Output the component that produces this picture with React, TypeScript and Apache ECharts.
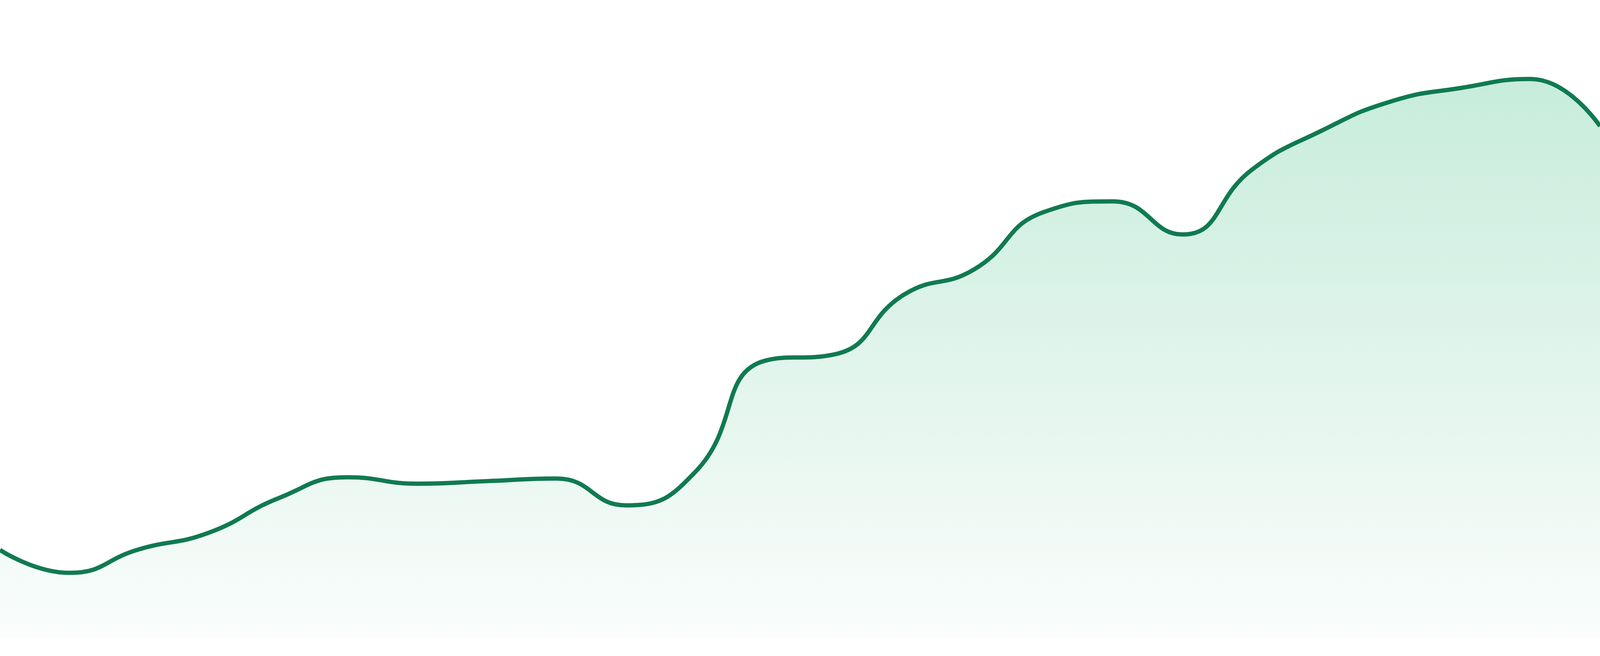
import React, { useEffect, useRef } from "react";
import * as echarts from "echarts";

const categories: string[] = [
  "1", "2", "3", "4", "5", "6", "7", "8", "9", "10", "11", "12",
  "13", "14", "15", "16", "17", "18", "19", "20", "21", "22", "23", "24",
];

const values: number[] = [
  13.7, 10.1, 13.8, 16.4, 21.8, 25.1, 24.1, 24.5, 24.9, 20.7, 26.0, 43.4,
  44.4, 53.8, 57.7, 66.7, 68.4, 63.2, 73.4, 79.5, 84.1, 86.2, 87.6, 80.2,
];

const yMin = 0;
const yMax = 100;

export default function App() {
  const ref = useRef<HTMLDivElement>(null);

  useEffect(() => {
    if (!ref.current) return;
    const chart = echarts.init(ref.current, null, { renderer: "svg" });
    chart.setOption({
      animation: false,
      backgroundColor: "#ffffff",
      grid: { left: 0, right: 0, top: 0, bottom: "2.86%", containLabel: false },
      xAxis: {
        type: "category",
        data: categories,
        boundaryGap: false,
        show: false,
      },
      yAxis: {
        type: "value",
        min: yMin,
        max: yMax,
        show: false,
      },
      series: [
        {
          type: "line",
          data: values,
          smooth: true,
          showSymbol: false,
          symbol: "none",
          lineStyle: { color: "#107a50", width: 11 },
          itemStyle: { color: "#107a50" },
          areaStyle: {
            color: new echarts.graphic.LinearGradient(0, 0, 0, 1, [
              { offset: 0, color: "#afe4cd" },
              { offset: 1, color: "#f8fcfa" },
            ]),
          },
        },
      ],
    });
    const onResize = () => chart.resize();
    window.addEventListener("resize", onResize);
    return () => {
      window.removeEventListener("resize", onResize);
      chart.dispose();
    };
  }, []);

  return (
    <div
      ref={ref}
      style={{ position: "fixed", left: 0, top: 0, width: "100vw", height: "100vh" }}
    />
  );
}
